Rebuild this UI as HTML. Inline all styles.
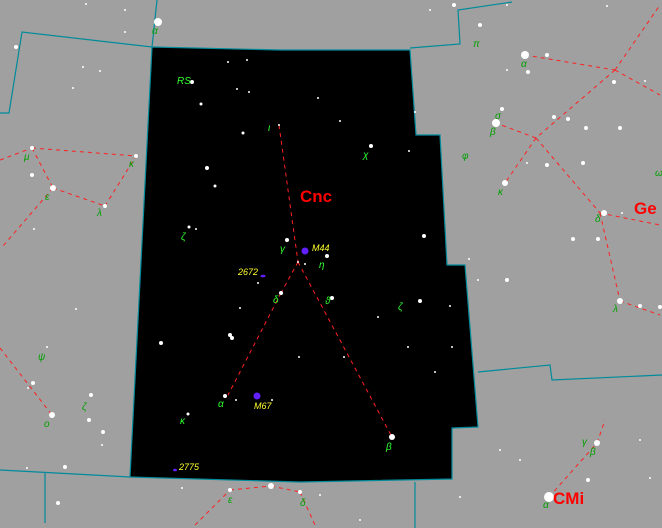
<!DOCTYPE html>
<html><head><meta charset="utf-8"><style>
html,body{margin:0;padding:0;background:#a0a0a0;}
svg{display:block;font-family:"Liberation Sans",sans-serif;}
.g{fill:#00a000;font-size:10px;font-style:italic;}
.gb{fill:#30ff30;font-size:10px;font-style:italic;}
</style></head><body>
<svg id="c" width="662" height="528" viewBox="0 0 662 528">
<rect width="662" height="528" fill="#a0a0a0"/>
<polygon fill="#000" stroke="#008b9b" stroke-width="1.2" points="152,47 280,50 410,50 416,135 440,135 447,265 465,265 478,427 452,428 452,479 300,482 130,477"/>
<g id="bounds" fill="none" stroke="#008b9b" stroke-width="1.2">
<polyline points="0,113 9,113 22,32 152,47 157,0"/>
<polyline points="410,48 460,44 458,10 512,2"/>
<polyline points="0,470 130,477"/>
<polyline points="45,473 45,523"/>
<polyline points="415,482 415,528"/>
<polyline points="478,372 550,365 552,380 662,375"/>
</g>
<g id="lines" fill="none" stroke="#ff2020" stroke-width="1" stroke-dasharray="4,4"></g>
<g id="stars" fill="#fff"></g>
<circle cx="305" cy="251" r="3.5" fill="#6020ff"/>
<circle cx="257" cy="396" r="3.5" fill="#6020ff"/>
<ellipse cx="263" cy="276" rx="2.5" ry="1.3" fill="#6020ff"/>
<ellipse cx="175" cy="470" rx="2" ry="1.3" fill="#6020ff"/>
<g fill="#ffff30" font-size="9" font-style="italic">
<text x="312" y="251">M44</text>
<text x="254" y="409">M67</text>
<text x="238" y="275">2672</text>
<text x="179" y="470">2775</text>
</g>
<g fill="#ff0000" font-weight="bold" font-size="17">
<text x="300" y="202">Cnc</text>
<text x="634" y="214">Ge</text>
<text x="553" y="504">CMi</text>
</g>
<g class="gb">
<text x="177" y="84">RS</text>
<text x="268" y="131">ι</text>
<text x="363" y="158">χ</text>
<text x="181" y="240">ζ</text>
<text x="280" y="252">γ</text>
<text x="319" y="268">η</text>
<text x="273" y="303">δ</text>
<text x="325" y="304">ϑ</text>
<text x="398" y="310">ζ</text>
<text x="218" y="407">α</text>
<text x="180" y="424">κ</text>
<text x="386" y="450">β</text>
</g>
<g class="g">
<text x="152" y="34">α</text>
<text x="473" y="47">π</text>
<text x="521" y="67">α</text>
<text x="495" y="119">σ</text>
<text x="490" y="135">β</text>
<text x="462" y="159">φ</text>
<text x="498" y="195">κ</text>
<text x="595" y="222">δ</text>
<text x="613" y="312">λ</text>
<text x="655" y="176">ω</text>
<text x="24" y="160">μ</text>
<text x="129" y="167">κ</text>
<text x="45" y="200">ε</text>
<text x="97" y="216">λ</text>
<text x="38" y="360">ψ</text>
<text x="82" y="410">ζ</text>
<text x="44" y="427">o</text>
<text x="582" y="445">γ</text>
<text x="590" y="455">β</text>
<text x="543" y="508">α</text>
<text x="228" y="503">ε</text>
<text x="300" y="506">δ</text>
</g>
</svg>
<script>
const starX=[192,228,247,237,201,249,318,243,215,371,340,409,424,287,327,305,258,281,332,240,230,232,161,344,299,272,225,236,188,392,207,196,189,420,435,450,452,408,378,158,16,86,125,125,83,100,73,32,136,53,105,32,34,76,47,28,33,91,89,103,102,65,27,58,52,525,547,528,507,496,554,568,586,502,505,547,583,604,622,573,598,620,640,660,620,614,645,527,478,507,469,607,454,480,507,549,597,588,230,271,300,320,182,360,460,500,520,650,640,415,430,279,298];
const starY=[82,62,60,89,104,92,98,133,186,146,121,151,236,240,256,264,283,293,298,308,335,338,343,357,357,400,396,400,414,437,168,229,227,301,372,306,347,347,317,22,47,4,10,32,67,71,88,148,156,188,206,175,229,309,347,388,383,395,420,432,445,467,468,503,415,55,55,72,70,123,117,119,128,109,183,165,163,213,213,239,239,301,306,307,128,82,81,163,280,280,259,6,5,25,5,497,443,480,490,486,492,495,488,520,497,450,460,478,440,112,10,125,262];
const starR=[2,1,1,1,1.5,1,1,1.5,1.5,2,1,1,2,2,2,1,1,2,2,1,2,2,2,1,1,1,2,1,1.5,3,2,1,1.5,2,1,1,1,1,1,4,2,1,1,1,1,1,1,2,2,3,2,2,1,1,1,1,2,2,2,2,1,2,1,2,3,4,2,2,1,4,2,2,2,2,3,2,2,3,1,2,2,3,2,2,2,2,1,1,1,2,1,1,2,2,1,5,3,2,2,3,2,1,1,1,1,1,1,1,1,1,1,1,1];
const segFrom=[[279,125],[298,262],[281,293],[298,262],[525,55],[615,70],[615,70],[615,70],[536,138],[536,138],[536,138],[600,213],[600,213],[620,301],[0,160],[32,148],[32,148],[53,188],[105,206],[53,188],[0,348],[195,525],[230,490],[271,486],[300,492],[549,497],[597,443]];
const segTo=[[298,262],[281,293],[228,395],[392,437],[615,70],[660,95],[660,5],[536,138],[496,123],[505,183],[600,213],[660,225],[620,301],[660,315],[32,148],[136,156],[53,188],[105,206],[136,156],[3,246],[52,415],[230,490],[271,486],[300,492],[315,525],[597,443],[605,420]];
const NS="http://www.w3.org/2000/svg";
const sg=document.getElementById('stars');
for(let i=0;i<starX.length;i++){
 const c=document.createElementNS(NS,'circle');
 c.setAttribute('cx',starX[i]);c.setAttribute('cy',starY[i]);c.setAttribute('r',starR[i]);
 
 
 sg.appendChild(c);
}
const lg=document.getElementById('lines');
for(let i=0;i<segFrom.length;i++){
 const l=document.createElementNS(NS,'line');
 l.setAttribute('x1',segFrom[i][0]);l.setAttribute('y1',segFrom[i][1]);
 l.setAttribute('x2',segTo[i][0]);l.setAttribute('y2',segTo[i][1]);
 
 
 lg.appendChild(l);
}
</script>
</body></html>
